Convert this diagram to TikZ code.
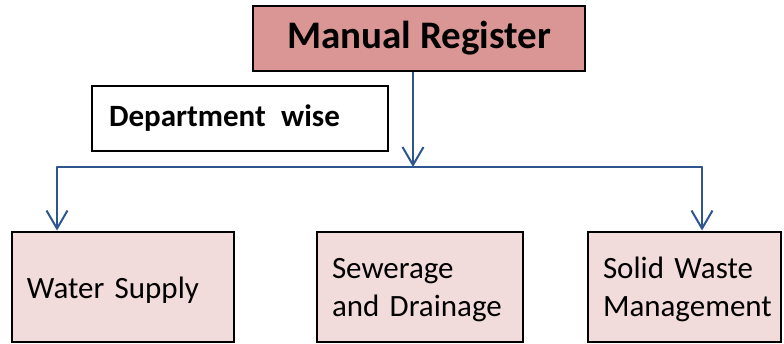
\documentclass[tikz,border=0pt]{standalone}
\usepackage{fontspec}
\setmainfont{Carlito}
\usetikzlibrary{arrows.meta}
\definecolor{linkblue}{HTML}{2D5691}
\definecolor{headfill}{HTML}{D99694}
\definecolor{leaffill}{HTML}{F2DCDB}
% font size with tight word spacing
\newcommand{\boxfont}[2]{\fontsize{#1}{#2}\selectfont\spaceskip=0.23em\relax}
\tikzset{
  box/.style={draw=black, line width=2pt, rectangle, inner ysep=0pt},
  leaf/.style={box, fill=leaffill, minimum height=110pt, inner xsep=15pt,
    align=left, font=\boxfont{31}{38},
    execute at begin node={\rule{0pt}{28pt}}},
  link/.style={draw=linkblue, line width=2pt,
    -{Straight Barb[length=18pt, width=21pt, line width=2pt]}},
  rail/.style={draw=linkblue, line width=2pt}
}
\begin{document}
\begin{tikzpicture}[x=1pt, y=-1pt]
  \useasboundingbox (0,0) rectangle (784,343);

  % top level
  \node[box, fill=headfill, minimum width=332pt, minimum height=65pt,
        font=\bfseries\boxfont{39}{42}] (reg) at (419,38.5) {Manual Register};

  % caption box
  \node[box, fill=white, minimum width=296pt, minimum height=65pt,
        inner xsep=17pt, text width=262pt, align=left,
        font=\bfseries\boxfont{31}{34}] (dept) at (240,118.5) {Department\hspace{0.5em}wise};

  % departments
  \node[leaf, minimum width=222pt, text width=192pt] (water) at (123,286.5) {Water Supply};
  \node[leaf, minimum width=206pt, text width=176pt] (sewer) at (420,286.5) {Sewerage\\and Drainage};
  \node[leaf, minimum width=193pt, text width=163pt] (solid) at (684.5,286.5) {Solid Waste\\Management};

  % connectors
  \coordinate (hub) at (413,167);
  \coordinate (lft) at (57,167);
  \coordinate (rgt) at (702,167);
  \draw[link] (reg.south -| hub) -- (hub);
  \draw[rail, line cap=round] (lft) -- (rgt);
  \draw[link] (lft) -- (lft |- water.north);
  \draw[link] (rgt) -- (rgt |- solid.north);
\end{tikzpicture}
\end{document}
